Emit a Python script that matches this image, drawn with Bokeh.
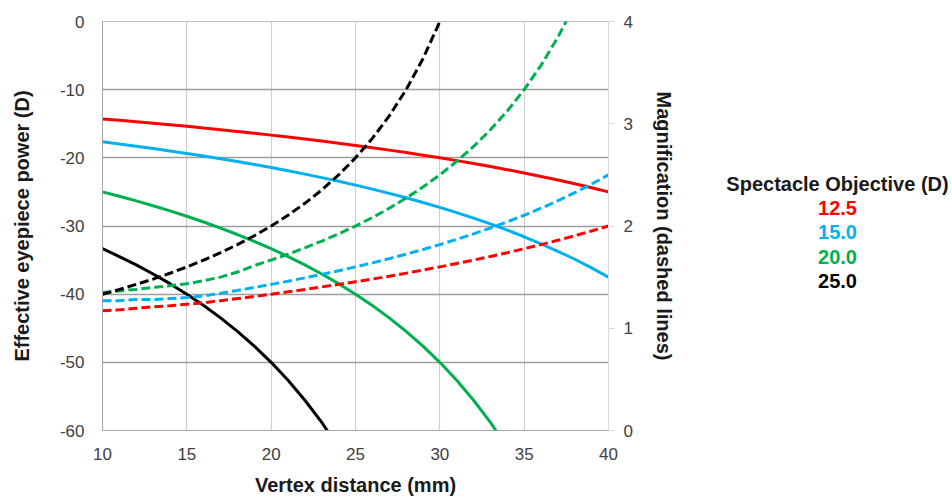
from bokeh.plotting import figure
from bokeh.models import Range1d, LinearAxis, Label, FixedTicker, CustomJSTickFormatter
from bokeh.layouts import row
from bokeh.embed import file_html
from bokeh.resources import INLINE

# ---- data ----
vertex_mm = list(range(10, 41))           # 10 .. 40
vertex_mm_20 = list(range(10, 35))        # 10 .. 34
vertex_mm_25 = list(range(10, 25))        # 10 .. 24
vertex_mm_mag20 = list(range(10, 39))     # 10 .. 38
vertex_mm_mag25 = list(range(10, 31))     # 10 .. 30

power_12_5 = [-14.29, -14.49, -14.71, -14.93, -15.15, -15.38, -15.63, -15.87, -16.13, -16.39,
              -16.67, -16.95, -17.24, -17.54, -17.86, -18.18, -18.52, -18.87, -19.23, -19.61,
              -20.00, -20.41, -20.83, -21.28, -21.74, -22.22, -22.73, -23.26, -23.81, -24.39, -25.00]
power_15 = [-17.65, -17.96, -18.29, -18.63, -18.99, -19.35, -19.74, -20.13, -20.55, -20.98,
            -21.43, -21.90, -22.39, -22.90, -23.44, -24.00, -24.59, -25.21, -25.86, -26.55,
            -27.27, -28.04, -28.85, -29.70, -30.61, -31.58, -32.61, -33.71, -34.88, -36.14, -37.50]
power_20 = [-25.00, -25.64, -26.32, -27.03, -27.78, -28.57, -29.41, -30.30, -31.25, -32.26,
            -33.33, -34.48, -35.71, -37.04, -38.46, -40.00, -41.67, -43.48, -45.45, -47.62,
            -50.00, -52.63, -55.56, -58.82, -62.50]
power_25 = [-33.33, -34.48, -35.71, -37.04, -38.46, -40.00, -41.67, -43.48, -45.45, -47.62,
            -50.00, -52.63, -55.56, -58.82, -62.50]

mag_12_5 = [1.17, 1.18, 1.195, 1.21, 1.22, 1.235, 1.25, 1.27, 1.29, 1.31,
            1.333, 1.356, 1.379, 1.404, 1.429, 1.455, 1.481, 1.509, 1.538, 1.569,
            1.60, 1.633, 1.667, 1.702, 1.739, 1.778, 1.818, 1.860, 1.905, 1.951, 2.00]
mag_15 = [1.27, 1.27, 1.28, 1.28, 1.29, 1.30, 1.316, 1.342, 1.370, 1.399,
          1.429, 1.460, 1.493, 1.527, 1.563, 1.60, 1.639, 1.681, 1.724, 1.770,
          1.818, 1.869, 1.923, 1.980, 2.041, 2.105, 2.174, 2.247, 2.326, 2.410, 2.50]
mag_20 = [1.35, 1.365, 1.38, 1.40, 1.415, 1.435, 1.465, 1.50, 1.55, 1.613,
          1.667, 1.724, 1.786, 1.852, 1.923, 2.00, 2.083, 2.174, 2.273, 2.381,
          2.50, 2.632, 2.778, 2.941, 3.125, 3.333, 3.571, 3.846, 4.167]
mag_25 = [1.333, 1.379, 1.429, 1.481, 1.538, 1.60, 1.667, 1.739, 1.818, 1.905,
          2.00, 2.105, 2.222, 2.353, 2.50, 2.667, 2.857, 3.077, 3.333, 3.636, 4.00]

legend_title = "Spectacle Objective (D)"
objective_labels = ["12.5", "15.0", "20.0", "25.0"]
x_ticks = [10, 15, 20, 25, 30, 35, 40]
y_ticks = [-60, -50, -40, -30, -20, -10, 0]
mag_ticks = [0, 1, 2, 3, 4]

colors = ["#ff0000", "#00b0f0", "#00b050", "#000000"]
FONT = "Liberation Sans"
plain = CustomJSTickFormatter(code="return tick.toString();")

p = figure(width=700, height=499, x_range=Range1d(10, 40), y_range=Range1d(-60, 0),
           output_backend="svg", toolbar_location=None,
           min_border_left=102, min_border_right=92, min_border_top=21, min_border_bottom=69)
p.extra_y_ranges = {"mag": Range1d(0, 4)}
p.outline_line_color = "#bfbfbf"

# grids
p.xgrid.ticker = FixedTicker(ticks=x_ticks)
p.ygrid.ticker = FixedTicker(ticks=y_ticks)
p.xgrid.grid_line_color = "#cfcfcf"
p.ygrid.grid_line_color = "#9e9e9e"
p.xgrid.grid_line_width = 1.2
p.ygrid.grid_line_width = 1.3

xa = p.xaxis[0]
xa.ticker = FixedTicker(ticks=x_ticks)
xa.axis_label = "Vertex distance (mm)"
ya = p.yaxis[0]
ya.ticker = FixedTicker(ticks=y_ticks)
ya.axis_label = "Effective eyepiece power (D)"

for ax in (xa, ya):
    ax.formatter = plain
    ax.major_tick_out = 0
    ax.major_tick_in = 0
    ax.minor_tick_out = 0
    ax.minor_tick_in = 0
    ax.axis_line_color = "#a6a6a6"
    ax.major_label_text_font = FONT
    ax.major_label_text_font_size = "17px"
    ax.major_label_text_color = "#404040"
    ax.axis_label_text_font = FONT
    ax.axis_label_text_font_size = "20px"
    ax.axis_label_text_font_style = "bold"
    ax.axis_label_text_color = "#1a1a1a"
xa.major_label_standoff = 17
xa.axis_label_standoff = 11
ya.major_label_standoff = 18
ya.axis_label_standoff = 24

ra = LinearAxis(y_range_name="mag", ticker=FixedTicker(ticks=mag_ticks),
                axis_label="Magnification (dashed lines)", formatter=plain)
ra.axis_line_color = "#d9d9d9"
ra.major_tick_line_color = "#d9d9d9"
ra.major_tick_out = 6
ra.major_tick_in = 0
ra.minor_tick_out = 0
ra.minor_tick_in = 0
ra.major_label_standoff = 9
ra.axis_label_standoff = 17
ra.major_label_text_font = FONT
ra.major_label_text_font_size = "17px"
ra.major_label_text_color = "#404040"
ra.axis_label_text_font = FONT
ra.axis_label_text_font_size = "20px"
ra.axis_label_text_font_style = "bold"
ra.axis_label_text_color = "#1a1a1a"
p.add_layout(ra, "right")

# solid lines: effective eyepiece power
p.line(vertex_mm, power_12_5, line_color=colors[0], line_width=3)
p.line(vertex_mm, power_15, line_color=colors[1], line_width=3)
p.line(vertex_mm_20, power_20, line_color=colors[2], line_width=3)
p.line(vertex_mm_25, power_25, line_color=colors[3], line_width=3)

# dashed lines: magnification
p.line(vertex_mm, mag_12_5, line_color=colors[0], line_width=3, line_dash="9 4", y_range_name="mag")
p.line(vertex_mm, mag_15, line_color=colors[1], line_width=3, line_dash="9 4", y_range_name="mag")
p.line(vertex_mm_mag20, mag_20, line_color=colors[2], line_width=3, line_dash="9 4", y_range_name="mag")
p.line(vertex_mm_mag25, mag_25, line_color=colors[3], line_width=3, line_dash="9 4", y_range_name="mag")

# legend panel: its frame is aligned with the main frame (page y 21..430)
lg = figure(width=252, height=499, x_range=Range1d(700, 952), y_range=Range1d(430, 21),
            x_axis_type=None, y_axis_type=None, output_backend="svg", toolbar_location=None,
            min_border=0)
lg.outline_line_color = None
lg.grid.visible = False
lg.add_layout(Label(x=837, y=183, text=legend_title, text_align="center", text_baseline="middle",
                    text_font=FONT, text_font_size="20px", text_font_style="bold",
                    text_color="#1a1a1a"))
for lab, col, yy in zip(objective_labels, colors, [207, 231, 256, 280]):
    lg.add_layout(Label(x=837, y=yy, text=lab, text_align="center", text_baseline="middle",
                        text_font=FONT, text_font_size="20px", text_font_style="bold",
                        text_color=col))

layout = row(p, lg, spacing=0)
open("out.html", "w").write(file_html(layout, INLINE))
